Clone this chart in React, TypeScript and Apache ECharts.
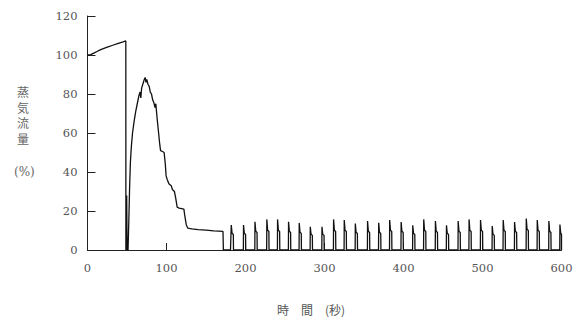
import React, { useEffect, useRef } from "react";
import * as echarts from "echarts";

// Main transient (time s, steam flow %)
const mainTimes = [0, 4, 8, 12, 16, 20, 26, 32, 38, 45, 48.5, 48.6, 49.2, 49.6, 50.1, 51.3, 52.3, 53.3, 54.3, 55.5, 57, 59, 61, 63, 65, 66.5, 67.5, 68.5, 70, 71.5, 73, 74, 75, 76.5, 78, 79.5, 81, 82.5, 84, 85.5, 86.5, 88, 90, 91.5, 92.5, 95, 97, 98.5, 99.5, 101, 103, 106, 107.5, 110, 111.5, 113.5, 116, 122, 123, 125, 127, 132, 140, 150, 160, 171.5, 172, 181];
const mainValues = [100, 100.2, 101, 101.8, 102.6, 103.3, 104.2, 105, 105.8, 106.7, 107.2, 0, 0, 28, 0, 0, 15, 32, 45, 53, 60, 66, 71, 75, 79, 81, 78, 83, 85, 87, 88.5, 86, 87.5, 85, 84, 81, 80, 77, 75.5, 73, 75, 68, 60, 54, 51, 50.5, 50, 44, 38, 36, 34, 33, 31, 30, 27, 22, 21.5, 21, 18, 13, 11.2, 10.8, 10.5, 10.2, 9.8, 9.5, 0, 0];

// Periodic spikes after 180 s
const spikeTimes = [182, 197.5, 212, 227, 240.6, 254.5, 268, 282, 296.8, 311.5, 325, 339, 354.5, 368.6, 382.5, 397, 411.7, 425.6, 440.4, 454.4, 469.2, 483, 497.5, 512.3, 526.2, 540.6, 555.4, 569.3, 584, 598];
const spikePeaks = [12.8, 12.8, 14.5, 15.7, 15.7, 14.5, 13.9, 11.9, 11.9, 15.7, 15.4, 13.6, 14.9, 14.0, 15.4, 14.3, 12.7, 15.7, 14.9, 12.7, 14.9, 15.7, 15.4, 12.3, 15.4, 14.3, 16.1, 15.4, 14.9, 13.1];
const spikeShoulders = [8.0, 8.0, 9.0, 9.5, 9.5, 9.0, 8.5, 7.5, 7.5, 9.5, 9.5, 8.5, 9.0, 8.5, 9.5, 9.0, 8.0, 9.5, 9.0, 8.0, 9.0, 9.5, 9.5, 7.5, 9.5, 9.0, 10.0, 9.5, 9.0, 8.0];

const xTicks = [0, 100, 200, 300, 400, 500, 600];
const yTicks = [0, 20, 40, 60, 80, 100, 120];

function buildData(): number[][] {
  const pts: number[][] = [];
  for (let i = 0; i < mainTimes.length; i++) pts.push([mainTimes[i], mainValues[i]]);
  for (let i = 0; i < spikeTimes.length; i++) {
    const t = spikeTimes[i];
    pts.push([t - 0.2, 0]);
    pts.push([t, spikePeaks[i]]);
    pts.push([Math.min(t + 1, 600), spikeShoulders[i] + 0.6]);
    pts.push([Math.min(t + 2.6, 600), spikeShoulders[i]]);
    pts.push([Math.min(t + 2.8, 600), 0]);
  }
  return pts;
}

export default function App() {
  const ref = useRef<HTMLDivElement>(null);
  useEffect(() => {
    if (!ref.current) return;
    const chart = echarts.init(ref.current, null, { renderer: "svg" });
    const numFont = "DejaVu Serif";
    chart.setOption({
      animation: false,
      backgroundColor: "#ffffff",
      grid: { left: 87.5, right: 15.5, top: 16, bottom: 72 },
      xAxis: {
        type: "value",
        min: xTicks[0],
        max: xTicks[xTicks.length - 1],
        interval: 100,
        axisLine: { show: true, lineStyle: { color: "#222", width: 1 } },
        axisTick: { show: true, inside: true, length: 7, lineStyle: { color: "#222" } },
        splitLine: { show: false },
        axisLabel: { color: "#555", fontFamily: numFont, fontSize: 11.5, margin: 12 },
      },
      yAxis: {
        type: "value",
        min: yTicks[0],
        max: yTicks[yTicks.length - 1],
        interval: 20,
        axisLine: { show: true, lineStyle: { color: "#222", width: 1 } },
        axisTick: { show: true, inside: true, length: 8, lineStyle: { color: "#222" } },
        splitLine: { show: false },
        axisLabel: { color: "#555", fontFamily: numFont, fontSize: 11.5, margin: 10 },
      },
      graphic: [
        {
          type: "text",
          left: 17,
          top: 84,
          style: {
            text: "蒸\n気\n流\n量",
            fill: "#666",
            font: '12px "Noto Sans CJK JP"',
            lineHeight: 15.5,
          },
        },
        {
          type: "text",
          left: 14,
          top: 166,
          style: { text: "(%)", fill: "#666", font: '12px "DejaVu Serif"' },
        },
        {
          type: "text",
          left: 277,
          top: 303,
          style: { text: "時　間　(秒)", fill: "#555", font: '12px "Noto Sans CJK JP"' },
        },
      ],
      series: [
        {
          type: "line",
          data: buildData(),
          showSymbol: false,
          symbol: "none",
          lineStyle: { color: "#111", width: 1.3 },
          silent: true,
        },
      ],
    });
    return () => chart.dispose();
  }, []);
  return (
    <div
      ref={ref}
      style={{ position: "fixed", left: 0, top: 0, width: 577, height: 322, background: "#fff" }}
    />
  );
}
